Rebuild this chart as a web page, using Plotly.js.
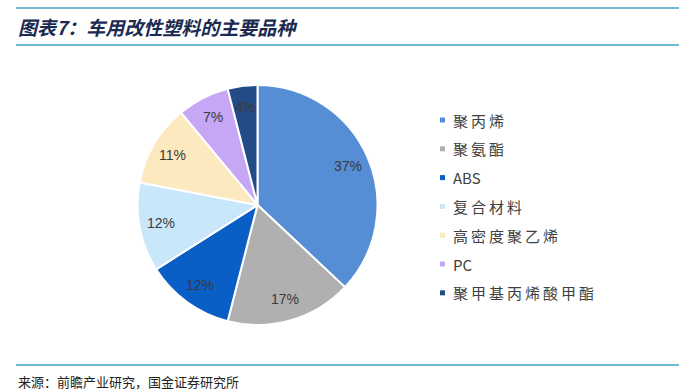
<!DOCTYPE html>
<html>
<head>
<meta charset="utf-8">
<script src="https://cdn.plot.ly/plotly-3.0.1.min.js"></script>
<style>html,body{margin:0;padding:0;background:#fff;}#chart{width:696px;height:392px;}</style>
</head>
<body>
<div id="chart"></div>
<script>
const labels = ['聚丙烯', '聚氨酯', 'ABS', '复合材料', '高密度聚乙烯', 'PC', '聚甲基丙烯酸甲酯'];
const values = [37, 17, 12, 12, 11, 7, 4];
const colors = ['#558ed5', '#b0b0b0', '#0a5fc6', '#c9e7fb', '#fde9bf', '#c5a7f5', '#234c86'];
const titleText = '图表7：车用改性塑料的主要品种';
const sourceText = '来源：前瞻产业研究，国金证券研究所';

const W = 696, H = 392;
const px = x => x / W;
const py = y => 1 - y / H;
// widen CJK glyph spacing in legend text (display only)
const spaced = s => Array.from(s).map(c => /[\u4e00-\u9fff]/.test(c) ? c + '\u2009' : c).join('').replace(/\u2009$/, '');

const shapes = [
  {type: 'line', xref: 'paper', yref: 'paper', x0: px(16), x1: px(679), y0: py(8), y1: py(8), line: {color: '#3aa6c0', width: 1.5}},
  {type: 'line', xref: 'paper', yref: 'paper', x0: px(16), x1: px(679), y0: py(45), y1: py(45), line: {color: '#3aa6c0', width: 1.5}},
  {type: 'line', xref: 'paper', yref: 'paper', x0: px(16), x1: px(679), y0: py(365), y1: py(365), line: {color: '#3aa6c0', width: 1.5}}
];
const annotations = [
  {text: '<b><i>' + titleText + '</i></b>', xref: 'paper', yref: 'paper', x: px(16), y: py(27), xanchor: 'left', yanchor: 'middle', showarrow: false,
   font: {family: 'Noto Sans CJK SC', size: 19, color: '#1b2a50'}},
  {text: sourceText, xref: 'paper', yref: 'paper', x: px(16), y: py(381), xanchor: 'left', yanchor: 'middle', showarrow: false,
   font: {family: 'Noto Sans CJK SC', size: 13, color: '#222'}}
];
const legY0 = 120, legStep = 28.8;
labels.forEach((l, i) => {
  const y = legY0 + i * legStep;
  shapes.push({type: 'rect', xref: 'paper', yref: 'paper', x0: px(440), x1: px(445), y0: py(y - 2.5), y1: py(y + 2.5), fillcolor: colors[i], line: {width: 0}});
  annotations.push({text: spaced(l), xref: 'paper', yref: 'paper', x: px(451), y: py(y), xanchor: 'left', yanchor: 'middle', showarrow: false,
    font: {family: 'Noto Sans CJK SC', size: 15, color: '#404040'}});
});

const cx = 257.5, cy = 205, r = 120, labFrac = 0.82;
const dom = {x: [px(cx - r), px(cx + r)], y: [py(cy + r), py(cy - r)]};
// percentage labels placed along each slice's bisector (derived from the values)
const total = values.reduce((a, b) => a + b, 0);
let cum = 0;
values.forEach(v => {
  const ang = (cum + v / 2) / total * 2 * Math.PI;
  cum += v;
  annotations.push({text: v + '%', xref: 'paper', yref: 'paper',
    x: px(cx + labFrac * r * Math.sin(ang)), y: py(cy - labFrac * r * Math.cos(ang)),
    xanchor: 'center', yanchor: 'middle', showarrow: false,
    font: {family: 'Liberation Sans, Arial', size: 14, color: '#3a3a3a'}});
});

const data = [{
  type: 'pie',
  labels: labels,
  values: values,
  sort: false,
  direction: 'clockwise',
  rotation: 0,
  marker: {colors: colors, line: {color: '#ffffff', width: 2}},
  textinfo: 'none',
  hoverinfo: 'none',
  showlegend: false,
  domain: dom
}];
const layout = {
  width: W, height: H,
  margin: {l: 0, r: 0, t: 0, b: 0},
  paper_bgcolor: '#ffffff',
  showlegend: false,
  shapes: shapes,
  annotations: annotations
};
Plotly.newPlot('chart', data, layout, {displayModeBar: false, staticPlot: true});
</script>
</body>
</html>
